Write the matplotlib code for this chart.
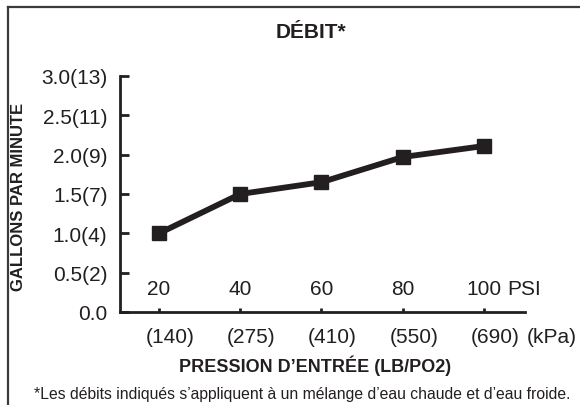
import matplotlib
matplotlib.use("Agg")
import matplotlib.pyplot as plt
import matplotlib.transforms as mtransforms
from matplotlib.lines import Line2D

# ---- data ----
psi = [20, 40, 60, 80, 100]
gpm = [1.0, 1.5, 1.65, 1.97, 2.11]
psi_labels = ["20", "40", "60", "80", "100"]
kpa_labels = ["(140)", "(275)", "(410)", "(550)", "(690)"]
y_ticks = [0.0, 0.5, 1.0, 1.5, 2.0, 2.5, 3.0]
y_labels = ["0.0", "0.5(2)", "1.0(4)", "1.5(7)", "2.0(9)", "2.5(11)", "3.0(13)"]

title = "DÉBIT*"
xlabel = "PRESSION D’ENTRÉE (LB/PO2)"
ylabel = "GALLONS PAR MINUTE"
footnote = "*Les débits indiqués s’appliquent à un mélange d’eau chaude et d’eau froide."

INK = "#231f20"
plt.rcParams['font.family'] = ['Liberation Sans', 'DejaVu Sans']

fig = plt.figure(figsize=(5.8, 4.06), dpi=100)
ax = fig.add_axes([120/580, 93/406, 405/580, 236/406])

ax.plot(psi, gpm, color=INK, lw=4.2, marker='s', markersize=10,
        markerfacecolor=INK, markeredgecolor=INK, solid_joinstyle='miter', clip_on=False)

ax.set_xlim(10.4, 110.1)
ax.set_ylim(0, 3.0)
for s in ['top', 'right']:
    ax.spines[s].set_visible(False)
for s in ['left', 'bottom']:
    ax.spines[s].set_color(INK)
    ax.spines[s].set_linewidth(2)

ax.set_yticks(y_ticks)
ax.set_yticklabels(y_labels, fontsize=15, color=INK)
ax.tick_params(axis='y', direction='in', length=6.5, width=2, color=INK, pad=9)
ax.set_xticks(psi)
ax.set_xticklabels([])
ax.tick_params(axis='x', direction='in', length=3, width=2, color=INK)

trans = ax.get_xaxis_transform()
for x, lab in zip(psi, psi_labels):
    ax.text(x, 0.0975, lab, transform=trans, ha='center', va='center', fontsize=15, color=INK)
ax.annotate("PSI", xy=(psi[-1], 0.0975), xycoords=trans, xytext=(16.5, 0),
            textcoords='offset points', ha='left', va='center', fontsize=15, color=INK)

off = mtransforms.ScaledTranslation(11/100, 0, fig.dpi_scale_trans)
for x, lab in zip(psi, kpa_labels):
    ax.text(x, -0.102, lab, transform=trans + off, ha='center', va='center', fontsize=15, color=INK)
ax.annotate("(kPa)", xy=(psi[-1], -0.102), xycoords=trans, xytext=(31, 0),
            textcoords='offset points', ha='left', va='center', fontsize=15, color=INK,
            annotation_clip=False)

fig.text(311/580, 1-33/406, title, ha='center', va='center', fontsize=15, fontweight='bold', color=INK)
fig.text(315/580, 1-366/406, xlabel, ha='center', va='center', fontsize=13, fontweight='bold', color=INK)
fig.text(19/580, 1-197/406, ylabel, ha='center', va='center', rotation=90, fontsize=12, fontweight='bold', color=INK)
fig.text(34/580, 1-395/406, footnote, ha='left', va='center', fontsize=11.3, color=INK)

# outer frame (top and left edges visible)
fig.add_artist(Line2D([8/580, 1.0], [1-8/406, 1-8/406], transform=fig.transFigure, color="#3a3a3a", lw=1.6))
fig.add_artist(Line2D([8/580, 8/580], [0.0, 1-8/406], transform=fig.transFigure, color="#3a3a3a", lw=1.6))

fig.savefig("out.png", dpi=100)
